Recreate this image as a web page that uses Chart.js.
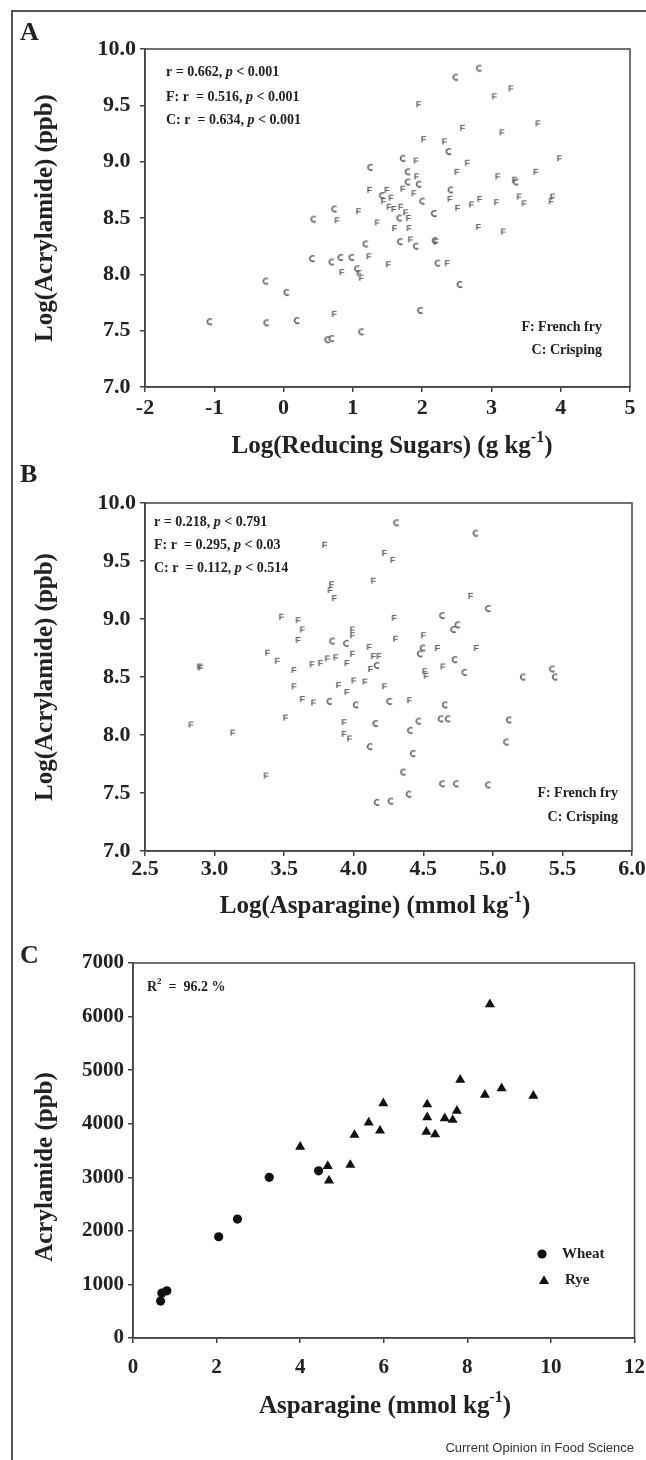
<!DOCTYPE html>
<html lang="en">
<head>
<meta charset="UTF-8">
<title>Acrylamide, reducing sugars and asparagine</title>
<script src="https://cdn.jsdelivr.net/npm/chart.js@4.4.1/dist/chart.umd.min.js"></script>
<style>
  body { margin: 0; background: #fff; }
  #page { position: relative; width: 646px; height: 1460px; overflow: hidden; }
  #frame { position: absolute; left: 11px; top: 10px; width: 700px; height: 1500px;
           border-left: 2px solid #555; border-top: 2px solid #555; }
  canvas { position: absolute; left: 0; }
</style>
</head>
<body>
<div id="page">
  <div id="frame"></div>
  <canvas id="chartA" width="646" height="465" style="top:0"></canvas>
  <canvas id="chartB" width="646" height="465" style="top:465px"></canvas>
  <canvas id="chartC" width="646" height="530" style="top:930px"></canvas>
</div>
<script>
// ---- data ----
// A: log(acrylamide) vs log(reducing sugars)
const sugarFryX = [1.95, 2.58, 2.02, 2.32, 1.91, 2.65, 2.50, 1.92, 1.72, 1.24, 1.49, 1.44, 1.55, 1.88, 2.40, 2.83, 2.71, 2.51, 0.77, 1.08,
                   1.52, 1.59, 1.69, 1.76, 1.80, 1.35, 1.60, 1.81, 2.81, 1.83, 2.20, 1.23, 1.51, 2.36, 0.84, 1.09, 1.12, 0.73, 3.67, 3.98,
                   3.64, 3.33, 3.09, 3.40, 3.47, 3.86, 3.88, 3.07, 3.28, 3.04, 3.15, 3.17];
const sugarFryY = [9.51, 9.30, 9.20, 9.18, 9.01, 8.99, 8.91, 8.87, 8.76, 8.75, 8.75, 8.65, 8.68, 8.72, 8.67, 8.67, 8.62, 8.59, 8.48, 8.56,
                   8.60, 8.58, 8.60, 8.55, 8.50, 8.46, 8.41, 8.41, 8.42, 8.31, 8.29, 8.16, 8.09, 8.10, 8.02, 8.01, 7.97, 7.65, 9.34, 9.03,
                   8.91, 8.84, 8.87, 8.69, 8.63, 8.65, 8.69, 8.64, 9.65, 9.58, 9.26, 8.38];
const sugarCrispX = [0.44, 0.42, -0.25, 0.05, -1.06, -0.24, 0.20, 2.83, 2.49, 2.39, 1.73, 1.26, 1.80, 1.80, 1.96, 1.43, 2.01, 2.42, 0.74, 1.68,
                     2.18, 1.19, 1.69, 1.92, 2.19, 0.70, 0.83, 0.99, 2.23, 1.07, 2.55, 1.98, 1.13, 0.64, 0.70, 3.36];
const sugarCrispY = [8.49, 8.14, 7.94, 7.84, 7.58, 7.57, 7.59, 9.83, 9.75, 9.09, 9.03, 8.95, 8.91, 8.82, 8.80, 8.70, 8.65, 8.75, 8.58, 8.50,
                     8.54, 8.27, 8.29, 8.25, 8.30, 8.11, 8.15, 8.15, 8.10, 8.05, 7.91, 7.68, 7.49, 7.42, 7.43, 8.82];

// B: log(acrylamide) vs log(asparagine)
const asnFryX = [3.48, 3.60, 3.63, 3.60, 3.38, 3.45, 2.89, 2.90, 3.57, 3.57, 3.63, 3.71, 3.51, 2.83, 3.13, 3.37, 3.79, 4.22, 4.28, 4.14,
                 3.84, 3.83, 3.86, 4.84, 4.29, 3.99, 3.99, 4.30, 4.50, 4.11, 4.60, 4.88, 4.64, 4.51, 4.52, 3.70, 3.76, 3.81, 3.87, 3.95,
                 3.99, 4.14, 4.18, 4.12, 3.89, 4.00, 4.08, 3.95, 4.22, 4.40, 3.93, 3.93, 3.97];
const asnFryY = [9.02, 8.99, 8.91, 8.82, 8.71, 8.64, 8.59, 8.58, 8.56, 8.42, 8.31, 8.28, 8.15, 8.09, 8.02, 7.65, 9.64, 9.57, 9.51, 9.33,
                 9.30, 9.25, 9.18, 9.20, 9.01, 8.91, 8.86, 8.83, 8.86, 8.76, 8.75, 8.75, 8.59, 8.55, 8.51, 8.61, 8.62, 8.66, 8.67, 8.62,
                 8.70, 8.68, 8.68, 8.57, 8.43, 8.47, 8.46, 8.37, 8.42, 8.30, 8.11, 8.01, 7.97];
const asnCrispX = [4.31, 4.88, 4.97, 4.64, 4.75, 4.72, 3.85, 3.95, 4.50, 4.48, 4.73, 4.80, 4.17, 3.83, 4.02, 4.26, 4.66, 4.63, 4.68, 4.16,
                   4.47, 4.41, 4.12, 4.43, 4.36, 4.64, 4.74, 4.97, 4.40, 4.17, 4.27, 5.43, 5.45, 5.22, 5.12, 5.10];
const asnCrispY = [9.83, 9.74, 9.09, 9.03, 8.95, 8.91, 8.81, 8.79, 8.75, 8.70, 8.65, 8.54, 8.60, 8.29, 8.26, 8.29, 8.26, 8.14, 8.14, 8.10,
                   8.12, 8.04, 7.90, 7.84, 7.68, 7.58, 7.58, 7.57, 7.49, 7.42, 7.43, 8.57, 8.50, 8.50, 8.13, 7.94];

// C: acrylamide vs asparagine in bread
const wheatX = [0.66, 0.69, 0.81, 2.05, 2.50, 3.26, 4.44];
const wheatY = [690, 840, 880, 1890, 2220, 3000, 3120];
const ryeX = [8.54, 7.83, 8.82, 8.42, 9.58, 5.99, 7.04, 7.75, 7.04, 7.46, 7.65, 5.64, 5.91, 7.02, 7.23, 5.30, 4.00, 4.66, 5.20, 4.69];
const ryeY = [6230, 4820, 4660, 4540, 4520, 4380, 4360, 4240, 4120, 4100, 4070, 4020, 3870, 3850, 3800, 3790, 3570, 3210, 3230, 2940];

const SERIF = '"Liberation Serif", "Times New Roman", serif';
const INK = '#222';
const AXIS = '#444';
const MARK = '#5e5e5e';

const pts = (xs, ys) => xs.map((x, i) => ({ x: x, y: ys[i] }));

// small letter markers used in A and B
function letterF() {
  const c = document.createElement('canvas');
  c.width = 9; c.height = 10;
  const g = c.getContext('2d');
  g.fillStyle = MARK;
  g.font = 'bold 9px "Liberation Sans", Arial, sans-serif';
  g.textAlign = 'center'; g.textBaseline = 'middle';
  g.fillText('F', 4.5, 5.3);
  return c;
}
function letterC() {
  const c = document.createElement('canvas');
  c.width = 9; c.height = 9;
  const g = c.getContext('2d');
  g.strokeStyle = MARK; g.lineWidth = 1.4;
  g.beginPath();
  g.arc(4.5, 4.5, 2.8, Math.PI * 0.28, Math.PI * 1.72);
  g.stroke();
  return c;
}
const markF = letterF();
const markC = letterC();

// text with bold / italic / superscript pieces
function segFont(s, size) {
  const st = s[1] || '';
  const sz = st.includes('s') ? Math.round(size * 0.62) : size;
  return (st.includes('i') ? 'italic ' : '') + 'bold ' + sz + 'px ' + SERIF;
}
function drawRich(ctx, x, y, segs, size, align) {
  let w = 0;
  segs.forEach(s => { ctx.font = segFont(s, size); w += ctx.measureText(s[0]).width; });
  let cx = align === 'center' ? x - w / 2 : align === 'right' ? x - w : x;
  ctx.textAlign = 'left';
  ctx.textBaseline = 'middle';
  segs.forEach(s => {
    ctx.font = segFont(s, size);
    const dy = (s[1] || '').includes('s') ? -size * 0.36 : 0;
    ctx.fillText(s[0], cx, y + dy);
    cx += ctx.measureText(s[0]).width;
  });
}

function makeDecor(cfg) {
  return {
    id: 'decor',
    afterDraw(chart) {
      const ctx = chart.ctx, a = chart.chartArea;
      ctx.save();
      ctx.strokeStyle = AXIS; ctx.lineWidth = 1.5;
      ctx.strokeRect(a.left, a.top, a.right - a.left, a.bottom - a.top);
      ctx.fillStyle = INK;
      ctx.font = 'bold 26px ' + SERIF;
      ctx.textAlign = 'left'; ctx.textBaseline = 'alphabetic';
      ctx.fillText(cfg.letter, cfg.letterPos[0], cfg.letterPos[1]);
      drawRich(ctx, cfg.xTitlePos[0], cfg.xTitlePos[1], cfg.xTitle, 25, 'center');
      ctx.save();
      ctx.translate(cfg.yTitlePos[0], cfg.yTitlePos[1]);
      ctx.rotate(-Math.PI / 2);
      drawRich(ctx, 0, 0, cfg.yTitle, 25, 'center');
      ctx.restore();
      cfg.notes.forEach(n => drawRich(ctx, n.x, n.y, n.segs, n.size || 14, n.align || 'left'));
      if (cfg.extra) cfg.extra(ctx);
      ctx.restore();
    }
  };
}

function axis(min, max, step, o) {
  return {
    type: 'linear', min: min, max: max,
    afterFit: s => {
      if (o.w) s.width = o.w;
      if (o.h) s.height = o.h;
      s.paddingLeft = 0; s.paddingRight = 0; s.paddingTop = 0; s.paddingBottom = 0;
    },
    ticks: {
      stepSize: step, autoSkip: false, color: INK, padding: o.pad, crossAlign: o.cross || 'near',
      font: { family: SERIF, size: o.size || 22, weight: 'bold' },
      callback: v => o.dec ? Number(v).toFixed(o.dec) : String(v)
    },
    grid: { drawOnChartArea: false, drawTicks: true, tickLength: 5, color: AXIS, lineWidth: 1.5 },
    border: { display: true, color: AXIS, width: 1.5 }
  };
}

function letterSet(data, mark) {
  return { data: data, pointStyle: mark, pointRadius: 3, showLine: false };
}

function baseOptions(padding, xs, ys) {
  return {
    responsive: false, animation: false, devicePixelRatio: 1,
    layout: { padding: padding },
    plugins: { legend: { display: false }, tooltip: { enabled: false } },
    scales: { x: xs, y: ys }
  };
}

// ---- panel A ----
new Chart(document.getElementById('chartA'), {
  type: 'scatter',
  data: { datasets: [letterSet(pts(sugarFryX, sugarFryY), markF), letterSet(pts(sugarCrispX, sugarCrispY), markC)] },
  options: baseOptions({ left: 0, right: 16, top: 49, bottom: 38 },
    axis(-2, 5, 1, { h: 40, pad: 3 }),
    axis(7, 10, 0.5, { w: 145, pad: 4, cross: 'center', dec: 1 })),
  plugins: [makeDecor({
    letter: 'A', letterPos: [20, 40],
    xTitle: [['Log(Reducing Sugars) (g kg'], ['-1', 's'], [')']], xTitlePos: [392, 447],
    yTitle: [['Log(Acrylamide) (ppb)']], yTitlePos: [46, 218],
    notes: [
      { x: 166, y: 72, segs: [['r = 0.662, '], ['p', 'i'], [' < 0.001']] },
      { x: 166, y: 97, segs: [['F: r  = 0.516, '], ['p', 'i'], [' < 0.001']] },
      { x: 166, y: 120, segs: [['C: r  = 0.634, '], ['p', 'i'], [' < 0.001']] },
      { x: 602, y: 327, segs: [['F: French fry']], align: 'right' },
      { x: 602, y: 350, segs: [['C: Crisping']], align: 'right' }
    ]
  })]
});

// ---- panel B ----
new Chart(document.getElementById('chartB'), {
  type: 'scatter',
  data: { datasets: [letterSet(pts(asnFryX, asnFryY), markF), letterSet(pts(asnCrispX, asnCrispY), markC)] },
  options: baseOptions({ left: 0, right: 14, top: 38, bottom: 39 },
    axis(2.5, 6, 0.5, { h: 40, pad: 0, dec: 1 }),
    axis(7, 10, 0.5, { w: 145, pad: 4, cross: 'center', dec: 1 })),
  plugins: [makeDecor({
    letter: 'B', letterPos: [20, 17],
    xTitle: [['Log(Asparagine) (mmol kg'], ['-1', 's'], [')']], xTitlePos: [375, 442],
    yTitle: [['Log(Acrylamide) (ppb)']], yTitlePos: [46, 212],
    notes: [
      { x: 154, y: 57, segs: [['r = 0.218, '], ['p', 'i'], [' < 0.791']] },
      { x: 154, y: 80, segs: [['F: r  = 0.295, '], ['p', 'i'], [' < 0.03']] },
      { x: 154, y: 103, segs: [['C: r  = 0.112, '], ['p', 'i'], [' < 0.514']] },
      { x: 618, y: 328, segs: [['F: French fry']], align: 'right' },
      { x: 618, y: 352, segs: [['C: Crisping']], align: 'right' }
    ]
  })]
});

// ---- panel C ----
new Chart(document.getElementById('chartC'), {
  type: 'scatter',
  data: {
    datasets: [
      { label: 'Wheat', data: pts(wheatX, wheatY), pointStyle: 'circle', pointRadius: 4.6,
        backgroundColor: '#111', borderColor: '#111', borderWidth: 0 },
      { label: 'Rye', data: pts(ryeX, ryeY), pointStyle: 'triangle', pointRadius: 5.8,
        backgroundColor: '#111', borderColor: '#111', borderWidth: 0 }
    ]
  },
  options: baseOptions({ left: 0, right: 11.5, top: 33, bottom: 77 },
    axis(0, 12, 2, { h: 45, pad: 12, size: 21 }),
    axis(0, 7000, 1000, { w: 133, pad: 4, size: 21 })),
  plugins: [makeDecor({
    letter: 'C', letterPos: [20, 33],
    xTitle: [['Asparagine (mmol kg'], ['-1', 's'], [')']], xTitlePos: [385, 477],
    yTitle: [['Acrylamide (ppb)']], yTitlePos: [46, 237],
    notes: [
      { x: 147, y: 57, segs: [['R'], ['2', 's'], ['  =  96.2 %']] },
      { x: 562, y: 324, segs: [['Wheat']], size: 15 },
      { x: 565, y: 350, segs: [['Rye']], size: 15 }
    ],
    extra: ctx => {
      // legend symbols
      ctx.fillStyle = '#111';
      ctx.beginPath(); ctx.arc(542, 324, 4.6, 0, Math.PI * 2); ctx.fill();
      const r = 5.8, cx = 544, cy = 351;
      ctx.beginPath();
      for (let k = 0; k < 3; k++) {
        const ang = k * 2 * Math.PI / 3;
        const px = cx + Math.sin(ang) * r, py = cy - Math.cos(ang) * r;
        k ? ctx.lineTo(px, py) : ctx.moveTo(px, py);
      }
      ctx.closePath(); ctx.fill();
      ctx.fillStyle = '#333';
      ctx.font = '13px "Liberation Sans", Arial, sans-serif';
      ctx.textAlign = 'right'; ctx.textBaseline = 'middle';
      ctx.fillText('Current Opinion in Food Science', 634, 518);
    }
  })]
});
</script>
</body>
</html>
